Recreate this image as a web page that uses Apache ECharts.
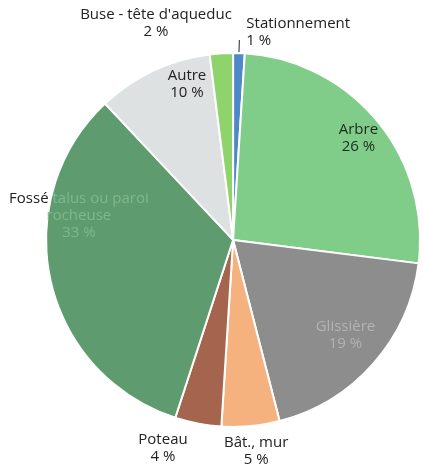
<!DOCTYPE html>
<html>
<head>
<meta charset="utf-8">
<script src="https://cdn.jsdelivr.net/npm/echarts@6/dist/echarts.min.js"></script>
<style>
html,body{margin:0;padding:0;background:#fff;}
#chart{width:423px;height:465px;}
</style>
</head>
<body>
<div id="chart"></div>
<script>
// Data
var categories = ["Stationnement", "Arbre", "Glissière", "Bât., mur", "Poteau", "Fossé talus ou paroi rocheuse", "Autre", "Buse - tête d'aqueduc"];
var values = [1, 26, 19, 5, 4, 33, 10, 2];
var labelTexts = ["Stationnement\n1 %", "Arbre\n26 %", "Glissière\n19 %", "Bât., mur\n5 %", "Poteau\n4 %", "{d|Fossé }{g|talus ou paroi}\n{g|rocheuse}\n{g|33 %}", "Autre\n10 %", "Buse - tête d'aqueduc\n2 %"];

// Styles
var colors = ["#4f88c6", "#80cd89", "#8d8d8d", "#f5b27e", "#a5644d", "#5e9c6f", "#dee1e1", "#8fd36c"];
var textColors = ["#222", "#1e2a20", "#b3b3b3", "#222", "#222", "#7fb88c", "#222", "#222"];
var labelOffsets = [[2, -8], [51, -40], [40, 31], [14, 115], [-52, 114], [-60, -45], [-5, -68], [-71, -120]];

var data = values.map(function (v, i) {
  var outside = (i === 0);
  return {
    name: categories[i],
    value: v,
    itemStyle: { color: colors[i] },
    label: {
      show: true,
      position: outside ? 'outside' : 'inside',
      formatter: labelTexts[i],
      color: textColors[i]
    },
    labelLine: {
      show: outside,
      length: 13,
      length2: 0,
      lineStyle: { color: '#222', width: 1 }
    }
  };
});

var chart = echarts.init(document.getElementById('chart'), null, { renderer: 'canvas' });
chart.setOption({
  backgroundColor: '#fff',
  animation: false,
  series: [{
    type: 'pie',
    center: ['55.1%', '51.6%'],
    radius: [0, 187],
    startAngle: 90,
    clockwise: true,
    avoidLabelOverlap: false,
    data: data,
    itemStyle: { borderColor: '#fff', borderWidth: 2 },
    label: {
      fontFamily: 'Open Sans',
      fontSize: 15,
      lineHeight: 17,
      align: 'center',
      rich: {
        d: { color: '#222', fontFamily: 'Open Sans', fontSize: 15, lineHeight: 17 },
        g: { color: '#7fb88c', fontFamily: 'Open Sans', fontSize: 15, lineHeight: 17 }
      }
    },
    labelLayout: function (params) {
      var o = labelOffsets[params.dataIndex];
      return { dx: o[0], dy: o[1] };
    }
  }]
});
</script>
</body>
</html>
